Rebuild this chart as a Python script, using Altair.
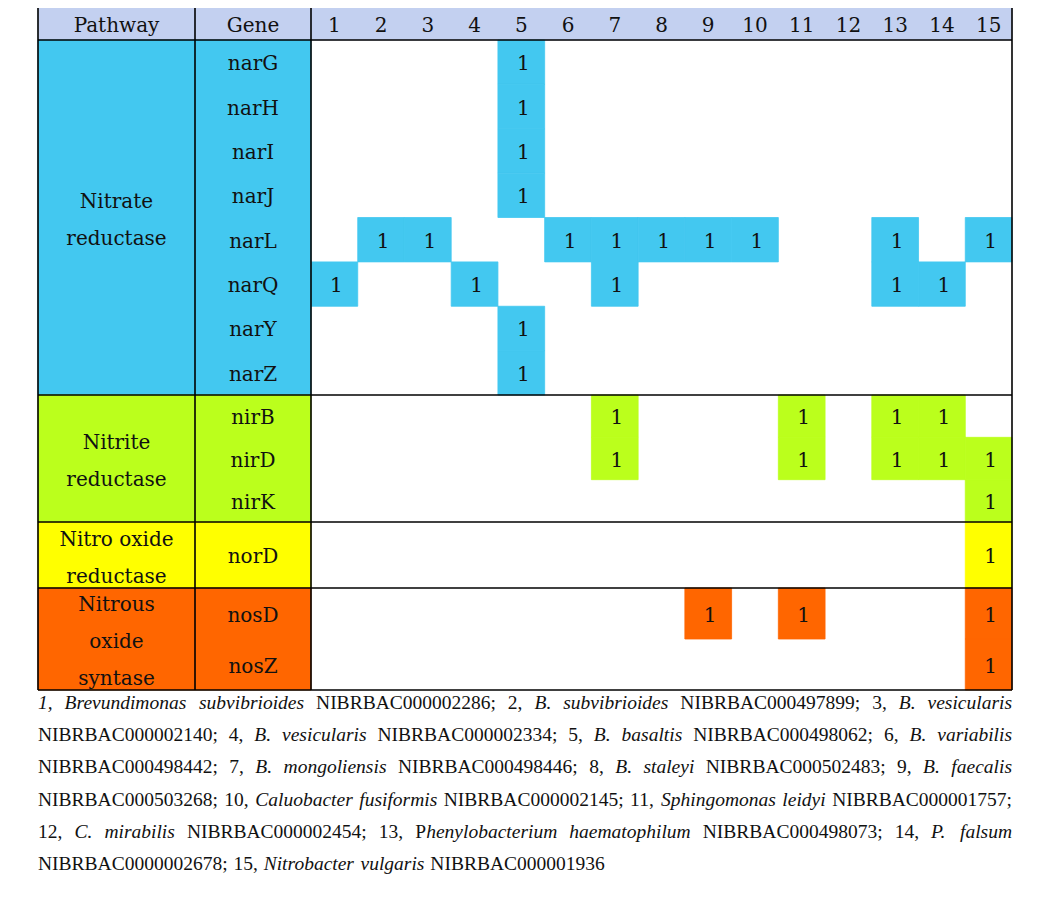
import altair as alt
import pandas as pd

# ------------------------------------------------------------------ data
pathways = ["Nitrate\nreductase", "Nitrite\nreductase",
            "Nitro oxide\nreductase", "Nitrous\noxide\nsyntase"]
genes_by_pathway = [
    ["narG", "narH", "narI", "narJ", "narL", "narQ", "narY", "narZ"],
    ["nirB", "nirD", "nirK"],
    ["norD"],
    ["nosD", "nosZ"],
]
strain_ids = list(range(1, 16))
present_in = {
    "narG": [5], "narH": [5], "narI": [5], "narJ": [5],
    "narL": [2, 3, 6, 7, 8, 9, 10, 13, 15],
    "narQ": [1, 4, 7, 13, 14],
    "narY": [5], "narZ": [5],
    "nirB": [7, 11, 13, 14],
    "nirD": [7, 11, 13, 14, 15],
    "nirK": [15],
    "norD": [15],
    "nosD": [9, 11, 15],
    "nosZ": [15],
}
header_labels = ["Pathway", "Gene"]
caption_lines = [
    "_1, Brevundimonas subvibrioides_ NIBRBAC000002286; 2, _B. subvibrioides_ NIBRBAC000497899; 3, _B. vesicularis_",
    "NIBRBAC000002140; 4, _B. vesicularis_ NIBRBAC000002334; 5, _B. basaltis_ NIBRBAC000498062; 6, _B. variabilis_",
    "NIBRBAC000498442; 7, _B. mongoliensis_ NIBRBAC000498446; 8, _B. staleyi_ NIBRBAC000502483; 9, _B. faecalis_",
    "NIBRBAC000503268; 10, _Caluobacter fusiformis_ NIBRBAC000002145; 11, _Sphingomonas leidyi_ NIBRBAC000001757;",
    "12, _C. mirabilis_ NIBRBAC000002454; 13, P_henylobacterium haematophilum_ NIBRBAC000498073; 14, _P. falsum_",
    "NIBRBAC0000002678; 15, _Nitrobacter vulgaris_ NIBRBAC000001936",
]

# ------------------------------------------------------------------ style / layout
group_colors = ["#43C8F0", "#BBFF1C", "#FFFF00", "#FF6600"]
header_color = "#C3D0F0"
W, H = 1036, 902
LEFT, PATH_W, GENE_W, RIGHT = 30, 157, 116, 1004
HEAD_TOP, HEAD_BOT = -1, 32
group_heights = [355, 127, 66, 102]
NUM_W = (RIGHT - LEFT - PATH_W - GENE_W) / len(strain_ids)
GENE_L = LEFT + PATH_W
NUM_L = GENE_L + GENE_W
TABLE_FONT = "DejaVu Serif"
TABLE_SIZE = 20
TEXT_DY = 2
LINE_H = 37
CAP_FONT = "Liberation Serif"
CAP_SIZE = 19.5
CAP_Y0, CAP_DY = 695, 32.2

# Times-compatible advance widths (per 1000 em) for Liberation Serif
RG = dict(zip("ABCDEFGHIJKLMNOPQRSTUVWXYZ",
              [722, 667, 667, 722, 611, 556, 722, 722, 333, 389, 722, 611, 889,
               722, 722, 556, 722, 667, 556, 611, 722, 722, 944, 722, 722, 611]))
RG.update(zip("abcdefghijklmnopqrstuvwxyz",
              [444, 500, 444, 500, 444, 333, 500, 500, 278, 278, 500, 278, 778,
               500, 500, 500, 500, 333, 389, 278, 500, 500, 722, 500, 500, 444]))
RG.update({d: 500 for d in "0123456789"})
RG.update({" ": 250, ",": 250, ".": 250, ";": 278})
IT = dict(zip("ABCDEFGHIJKLMNOPQRSTUVWXYZ",
              [611, 611, 667, 722, 611, 611, 722, 722, 333, 444, 667, 556, 833,
               667, 722, 611, 722, 611, 500, 556, 722, 611, 833, 611, 556, 556]))
IT.update(zip("abcdefghijklmnopqrstuvwxyz",
              [500, 500, 444, 500, 444, 278, 500, 500, 278, 278, 444, 278, 722,
               500, 500, 500, 500, 389, 389, 278, 500, 444, 667, 444, 444, 389]))
IT.update({d: 500 for d in "0123456789"})
IT.update({" ": 250, ",": 250, ".": 250, ";": 333})


def seg_width(text, italic):
    table = IT if italic else RG
    return sum(table.get(c, 500) for c in text) * CAP_SIZE / 1000.0


def parse_line(line):
    words, cur, buf, italic = [], [], "", False
    for ch in line:
        if ch == "_":
            if buf:
                cur.append((buf, italic))
                buf = ""
            italic = not italic
        elif ch == " ":
            if buf:
                cur.append((buf, italic))
                buf = ""
            if cur:
                words.append(cur)
                cur = []
        else:
            buf += ch
    if buf:
        cur.append((buf, italic))
    if cur:
        words.append(cur)
    return words


# ------------------------------------------------------------------ tables
rects, texts, rules = [], [], []

# header
rects.append(dict(x=LEFT, x2=RIGHT, y=HEAD_TOP, y2=HEAD_BOT, fill=header_color))
head_y = (HEAD_TOP + HEAD_BOT) / 2
texts.append(dict(x=LEFT + PATH_W / 2, y=head_y, t=header_labels[0]))
texts.append(dict(x=GENE_L + GENE_W / 2, y=head_y, t=header_labels[1]))
for s in strain_ids:
    texts.append(dict(x=NUM_L + (s - 0.5) * NUM_W, y=head_y, t=str(s)))

top = HEAD_BOT
group_bounds = [HEAD_TOP, HEAD_BOT]
for gi, (pw, genes) in enumerate(zip(pathways, genes_by_pathway)):
    gh = group_heights[gi]
    col = group_colors[gi]
    rects.append(dict(x=LEFT, x2=GENE_L, y=top, y2=top + gh, fill=col))
    rects.append(dict(x=GENE_L, x2=NUM_L, y=top, y2=top + gh, fill=col))
    n_lines = pw.count("\n") + 1
    texts.append(dict(x=LEFT + PATH_W / 2,
                      y=top + gh / 2 - (n_lines - 1) * LINE_H / 2 + 1, t=pw))
    rh = gh / len(genes)
    for ri, g in enumerate(genes):
        y0 = top + ri * rh
        texts.append(dict(x=GENE_L + GENE_W / 2, y=y0 + rh / 2, t=g))
        for s in present_in[g]:
            rects.append(dict(x=NUM_L + (s - 1) * NUM_W, x2=NUM_L + s * NUM_W,
                              y=y0, y2=y0 + rh, fill=col))
            texts.append(dict(x=NUM_L + (s - 0.5) * NUM_W + 2, y=y0 + rh / 2, t="1"))
    top += gh
    group_bounds.append(top)

for yb in group_bounds:
    rules.append(dict(x=LEFT, x2=RIGHT, y=yb, y2=yb))
for xb in [LEFT, GENE_L, NUM_L, RIGHT]:
    rules.append(dict(x=xb, x2=xb, y=HEAD_TOP, y2=top))

# caption words (justified)
caps = []
full_w = RIGHT - LEFT
for li, line in enumerate(caption_lines):
    words = parse_line(line)
    widths = [sum(seg_width(t, it) for t, it in w) for w in words]
    last = li == len(caption_lines) - 1
    gap = 0.3 * CAP_SIZE if last else (full_w - sum(widths)) / (len(words) - 1)
    x = LEFT
    y = CAP_Y0 + li * CAP_DY
    for w, ww in zip(words, widths):
        xx = x
        for t, it in w:
            caps.append(dict(x=xx, y=y, t=t, italic=it))
            xx += seg_width(t, it)
        x += ww + gap

rect_df = pd.DataFrame(rects)
text_df = pd.DataFrame(texts)
rule_df = pd.DataFrame(rules)
cap_df = pd.DataFrame(caps)

xs = alt.Scale(domain=[0, W], range=[0, W], nice=False, zero=False)
ys = alt.Scale(domain=[0, H], range=[0, H], nice=False, zero=False)
X = lambda f: alt.X(f, type="quantitative", scale=xs, axis=None)
Y = lambda f: alt.Y(f, type="quantitative", scale=ys, axis=None)

fills = alt.Chart(rect_df).mark_rect(strokeWidth=0.8).encode(
    x=X("x"), x2="x2", y=Y("y"), y2="y2",
    color=alt.Color("fill:N", scale=None),
    stroke=alt.Stroke("fill:N", scale=None),
)
lines = alt.Chart(rule_df).mark_rule(color="black", strokeWidth=1.6).encode(
    x=X("x"), x2="x2", y=Y("y"), y2="y2",
)
labels = alt.Chart(text_df).mark_text(
    font=TABLE_FONT, fontSize=TABLE_SIZE, color="#111111", align="center",
    baseline="middle", lineBreak="\n", lineHeight=LINE_H, dy=TEXT_DY,
).encode(x=X("x"), y=Y("y"), text="t:N")

cap_reg = alt.Chart(cap_df).transform_filter("!datum.italic").mark_text(
    font=CAP_FONT, fontSize=CAP_SIZE, color="#111111", align="left", baseline="middle",
).encode(x=X("x"), y=Y("y"), text="t:N")
cap_it = alt.Chart(cap_df).transform_filter("datum.italic").mark_text(
    font=CAP_FONT, fontSize=CAP_SIZE, fontStyle="italic", color="#111111",
    align="left", baseline="middle",
).encode(x=X("x"), y=Y("y"), text="t:N")

chart = alt.layer(fills, lines, labels, cap_reg, cap_it).properties(
    width=W, height=H, autosize="none", padding=0,
).configure_view(stroke=None)

chart.save("out.html", embed_options={"renderer": "svg", "actions": False})
